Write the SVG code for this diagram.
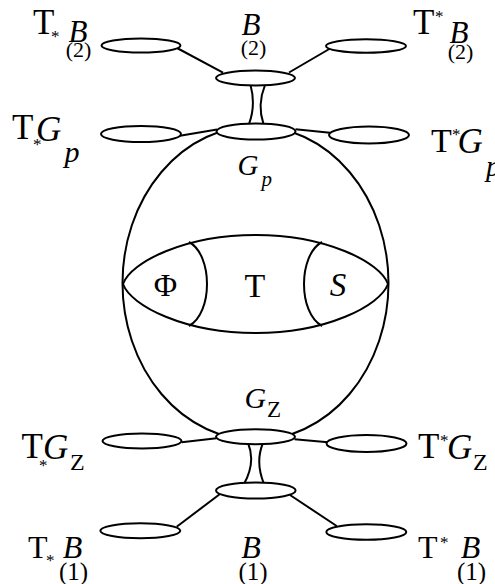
<svg xmlns="http://www.w3.org/2000/svg" width="495" height="584" viewBox="0 0 495 584">
<style>
.s{fill:none;stroke:#000;stroke-width:2}
.w{fill:#fff;stroke:#000;stroke-width:2}
text{font-family:"Liberation Serif","Times New Roman",serif;fill:#000}
.i{font-style:italic}
</style>
<rect width="495" height="584" fill="#fff"/>
<g id="sphere">
<ellipse class="s" cx="255.5" cy="283" rx="133" ry="157"/>
</g>
<g id="lens">
<path class="s" d="M123,284 C131,262 185,235 255.5,235 C326,235 380,262 388,284 C380,306 326,333 255.5,333 C185,333 131,306 123,284 Z"/>
<path class="s" d="M189,242 C213,255 213,313 189,326"/>
<path class="s" d="M322,242 C298,255 298,313 322,326"/>
<text x="165.5" y="296" font-size="32" text-anchor="middle">Φ</text>
<text x="255" y="296.5" font-size="34" text-anchor="middle">T</text>
<text x="338" y="296" font-size="33" text-anchor="middle" class="i">S</text>
</g>
<g id="connectors">
<line class="s" x1="177" y1="48" x2="223" y2="72.7"/>
<line class="s" x1="331" y1="48" x2="289" y2="72.5"/>
<path class="s" d="M250.5,85 Q256,105 249,124"/>
<path class="s" d="M265,85 Q257,105 263.5,124"/>
<line class="s" x1="178.5" y1="136" x2="217" y2="129.5"/>
<line class="s" x1="295.5" y1="129.3" x2="330" y2="132.7"/>
<line class="s" x1="181.7" y1="442.3" x2="216.5" y2="438.3"/>
<line class="s" x1="294.5" y1="439.3" x2="328" y2="442.3"/>
<path class="s" d="M248,443 Q256,462 244,484"/>
<path class="s" d="M263,443 Q255,462 264,484"/>
<line class="s" x1="176.7" y1="526.7" x2="220" y2="494"/>
<line class="s" x1="290" y1="495" x2="336.7" y2="526"/>
</g>
<g id="B2">
<ellipse class="w" cx="255.5" cy="78" rx="39.5" ry="7.5"/>
<text x="251" y="35" font-size="31" text-anchor="middle" class="i">B</text>
<text x="253.5" y="55" font-size="22" text-anchor="middle">(2)</text>
</g>
<g id="TstarB2">
<ellipse class="w" cx="141" cy="45.5" rx="39.5" ry="7"/>
<text x="33" y="34" font-size="35">T</text>
<text x="51" y="42" font-size="17">*</text>
<text x="78" y="42" font-size="31" text-anchor="middle" class="i">B</text>
<text x="78.5" y="56.5" font-size="22" text-anchor="middle">(2)</text>
</g>
<g id="TupB2">
<ellipse class="w" cx="366" cy="46" rx="40" ry="6.8"/>
<text x="413" y="34" font-size="35">T</text>
<text x="435" y="22" font-size="17">*</text>
<text x="459" y="43" font-size="31" text-anchor="middle" class="i">B</text>
<text x="460.5" y="58.5" font-size="22" text-anchor="middle">(2)</text>
</g>
<g id="Gp">
<ellipse class="w" cx="256" cy="131.5" rx="39.5" ry="8"/>
<text x="237.5" y="175" font-size="29" class="i">G</text>
<text x="261.5" y="185.5" font-size="21" class="i">p</text>
</g>
<g id="TstarGp">
<ellipse class="w" cx="141" cy="134" rx="40" ry="8"/>
<text x="12" y="139" font-size="35">T</text>
<text x="33" y="150" font-size="17">*</text>
<text x="36" y="140.5" font-size="35" class="i">G</text>
<text x="64.5" y="162" font-size="30" class="i">p</text>
</g>
<g id="TupGp">
<ellipse class="w" cx="369" cy="135" rx="40" ry="8.5"/>
<text x="431" y="151.7" font-size="34">T</text>
<text x="452" y="140" font-size="17">*</text>
<text x="457.5" y="152.5" font-size="35" class="i">G</text>
<text x="486" y="176" font-size="29" class="i">p</text>
</g>
<g id="GZ">
<ellipse class="w" cx="255.5" cy="436.7" rx="39.5" ry="7.5"/>
<text x="244.5" y="408" font-size="30" class="i">G</text>
<text x="267" y="416.7" font-size="23">Z</text>
</g>
<g id="TstarGZ">
<ellipse class="w" cx="142" cy="441" rx="39.5" ry="7.5"/>
<text x="21.5" y="458.3" font-size="35">T</text>
<text x="39" y="471" font-size="17">*</text>
<text x="43" y="459" font-size="35" class="i">G</text>
<text x="70" y="470" font-size="24">Z</text>
</g>
<g id="TupGZ">
<ellipse class="w" cx="366.5" cy="443.5" rx="40" ry="8.5"/>
<text x="418" y="458" font-size="35">T</text>
<text x="440" y="446" font-size="17">*</text>
<text x="447" y="459" font-size="35" class="i">G</text>
<text x="473" y="470" font-size="24">Z</text>
</g>
<g id="B1">
<ellipse class="w" cx="255.8" cy="490.5" rx="39.8" ry="8"/>
<text x="251" y="558" font-size="32" text-anchor="middle" class="i">B</text>
<text x="253" y="579.5" font-size="25" text-anchor="middle">(1)</text>
</g>
<g id="TstarB1">
<ellipse class="w" cx="140.3" cy="530.8" rx="40" ry="7.5"/>
<text x="28" y="558" font-size="32">T</text>
<text x="46" y="566" font-size="17">*</text>
<text x="72.5" y="558" font-size="32" text-anchor="middle" class="i">B</text>
<text x="73.5" y="579.5" font-size="25" text-anchor="middle">(1)</text>
</g>
<g id="TupB1">
<ellipse class="w" cx="366.3" cy="532" rx="40" ry="7.8"/>
<text x="418" y="558" font-size="32">T</text>
<text x="440" y="548" font-size="17">*</text>
<text x="470.5" y="558" font-size="32" text-anchor="middle" class="i">B</text>
<text x="471.5" y="579.5" font-size="25" text-anchor="middle">(1)</text>
</g>
</svg>
